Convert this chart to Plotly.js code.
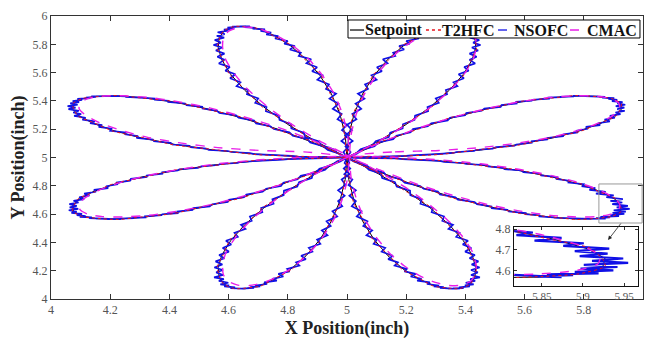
<!DOCTYPE html>
<html>
<head>
<meta charset="utf-8">
<script src="https://cdn.plot.ly/plotly-3.0.1.min.js"></script>
<style>html,body{margin:0;padding:0;background:#fff;}#chart{width:645px;height:340px;}</style>
</head>
<body>
<div id="chart"></div>
<script>
// ---------- Setpoint (rose path) ----------
var spAPos = [5,5.156,5.308,5.451,5.581,5.694,5.787,5.858,5.905,5.927,5.924,5.897,5.847,5.777,5.690,5.588,5.476,5.357,5.235,5.115,5];
var spANeg = [5,4.844,4.692,4.549,4.419,4.306,4.213,4.142,4.095,4.073,4.076,4.103,4.153,4.223,4.310,4.412,4.524,4.643,4.765,4.885,5];
var spBPos = [5,5.006,5.024,5.053,5.092,5.138,5.189,5.242,5.294,5.342,5.383,5.414,5.432,5.435,5.423,5.393,5.346,5.281,5.201,5.106,5];
var spBNeg = [5,4.994,4.976,4.947,4.908,4.862,4.811,4.758,4.706,4.658,4.617,4.586,4.568,4.565,4.577,4.607,4.654,4.719,4.799,4.894,5];

// ---------- T2HFC ----------
var t2APos = [5,5.152,5.311,5.447,5.584,5.690,5.790,5.855,5.908,5.924,5.927,5.894,5.850,5.773,5.693,5.585,5.479,5.353,5.238,5.112,5];
var t2ANeg = [5,4.848,4.689,4.553,4.416,4.310,4.210,4.145,4.092,4.076,4.073,4.106,4.150,4.227,4.307,4.415,4.521,4.647,4.762,4.888,5];
var t2BPos = [5,5.008,5.021,5.056,5.089,5.141,5.186,5.245,5.291,5.345,5.380,5.417,5.429,5.438,5.420,5.396,5.343,5.284,5.198,5.109,5];
var t2BNeg = [5,4.992,4.979,4.944,4.911,4.859,4.814,4.755,4.709,4.655,4.620,4.583,4.571,4.562,4.580,4.604,4.657,4.716,4.802,4.891,5];

// ---------- CMAC ----------
var cmAPos = [5.008,5.162,5.311,5.452,5.580,5.692,5.783,5.853,5.899,5.921,5.918,5.892,5.842,5.773,5.688,5.587,5.477,5.360,5.239,5.121,5.008];
var cmANeg = [5.008,4.854,4.705,4.564,4.436,4.324,4.233,4.163,4.117,4.095,4.098,4.124,4.174,4.243,4.328,4.429,4.539,4.656,4.777,4.895,5.008];
var cmBPos = [5.008,5.014,5.032,5.060,5.099,5.144,5.194,5.246,5.298,5.345,5.385,5.416,5.434,5.436,5.425,5.395,5.349,5.285,5.206,5.112,5.008];
var cmBUp  = [5.008,5.040,5.050,5.070,5.103,5.144,5.194,5.246,5.298,5.345,5.385,5.416,5.434,5.436,5.425,5.395,5.349,5.285,5.206,5.112,5.008];
var cmBNeg = [5.008,5.002,4.984,4.956,4.917,4.872,4.822,4.770,4.718,4.671,4.631,4.600,4.582,4.580,4.591,4.621,4.667,4.731,4.810,4.904,5.008];

// ---------- NSOFC (noisy tracking, one array per petal) ----------
var nsX_A = [5,5.049,5.070,5.131,5.144,5.200,5.217,5.282,5.302,5.360,5.370,5.429,5.435,5.492,5.504,5.566,5.572,5.624,5.624,5.676,5.677,5.730,5.733,5.780,5.774,5.814,5.807,5.855,5.848,5.888,5.870,5.905,5.888,5.924,5.907,5.938,5.913,5.937,5.908,5.940,5.913,5.931,5.895,5.913,5.883,5.903,5.862,5.872,5.830,5.844,5.804,5.811,5.764,5.767,5.719,5.724,5.681,5.682,5.627,5.624,5.572,5.573,5.522,5.519,5.464,5.455,5.403,5.399,5.348,5.340,5.285,5.273,5.223,5.215,5.167,5.156,5.106,5.093,5.051,5.033,5];
var nsX_E = [5,4.951,4.930,4.869,4.856,4.800,4.783,4.718,4.698,4.640,4.630,4.571,4.565,4.508,4.496,4.434,4.428,4.376,4.376,4.324,4.323,4.270,4.267,4.220,4.226,4.186,4.193,4.145,4.152,4.112,4.130,4.095,4.112,4.076,4.093,4.062,4.087,4.063,4.092,4.060,4.087,4.069,4.105,4.087,4.117,4.097,4.138,4.128,4.170,4.156,4.196,4.189,4.236,4.233,4.281,4.276,4.319,4.318,4.373,4.376,4.428,4.427,4.478,4.481,4.536,4.545,4.597,4.601,4.652,4.660,4.715,4.727,4.777,4.785,4.833,4.844,4.894,4.907,4.949,4.967,5];
var nsX_H = [5,5.029,5.086,5.103,5.168,5.188,5.247,5.258,5.314,5.328,5.390,5.403,5.467,5.476,5.528,5.532,5.590,5.596,5.652,5.656,5.711,5.706,5.749,5.748,5.800,5.796,5.839,5.819,5.874,5.841,5.901,5.876,5.932,5.890,5.930,5.896,5.949,5.911,5.955,5.901,5.942,5.897,5.937,5.890,5.919,5.856,5.888,5.841,5.874,5.808,5.825,5.769,5.790,5.745,5.749,5.700,5.699,5.648,5.651,5.604,5.604,5.547,5.542,5.489,5.488,5.439,5.431,5.375,5.366,5.314,5.307,5.259,5.247,5.195,5.183,5.134,5.124,5.081,5.065,5.025,5];
var nsX_D = [5,4.971,4.914,4.897,4.832,4.812,4.753,4.742,4.686,4.672,4.610,4.597,4.533,4.524,4.472,4.468,4.410,4.404,4.348,4.344,4.289,4.294,4.251,4.252,4.200,4.204,4.161,4.173,4.132,4.148,4.106,4.117,4.078,4.102,4.075,4.094,4.059,4.083,4.056,4.090,4.065,4.095,4.073,4.105,4.089,4.133,4.118,4.152,4.136,4.184,4.180,4.221,4.210,4.255,4.251,4.300,4.301,4.352,4.349,4.396,4.396,4.453,4.458,4.511,4.512,4.561,4.569,4.625,4.634,4.686,4.693,4.741,4.753,4.805,4.817,4.866,4.876,4.919,4.935,4.975,5];
var nsX_B = [5,5.012,4.995,5.019,4.994,5.017,5.000,5.032,5.018,5.048,5.029,5.059,5.037,5.071,5.061,5.100,5.083,5.118,5.101,5.137,5.121,5.163,5.156,5.193,5.176,5.212,5.200,5.243,5.232,5.273,5.256,5.292,5.277,5.319,5.309,5.346,5.328,5.363,5.345,5.388,5.372,5.404,5.383,5.416,5.400,5.437,5.413,5.440,5.415,5.447,5.426,5.451,5.422,5.443,5.414,5.438,5.414,5.433,5.396,5.411,5.377,5.395,5.360,5.373,5.334,5.338,5.300,5.310,5.272,5.274,5.230,5.228,5.189,5.188,5.146,5.141,5.097,5.086,5.046,5.031,5];
var nsX_C = [5,4.988,5.005,4.981,5.006,4.983,5.000,4.968,4.982,4.952,4.971,4.941,4.963,4.929,4.939,4.900,4.917,4.882,4.899,4.863,4.879,4.837,4.844,4.807,4.824,4.788,4.800,4.757,4.768,4.727,4.744,4.708,4.723,4.681,4.691,4.654,4.672,4.637,4.655,4.612,4.628,4.596,4.617,4.584,4.600,4.563,4.587,4.560,4.585,4.553,4.574,4.549,4.578,4.557,4.586,4.562,4.586,4.567,4.604,4.589,4.623,4.605,4.640,4.627,4.666,4.662,4.700,4.690,4.728,4.726,4.770,4.772,4.811,4.812,4.854,4.859,4.903,4.914,4.954,4.969,5];
var nsX_G = [5,4.992,5.011,4.991,5.018,5.005,5.030,5.008,5.030,5.016,5.049,5.033,5.069,5.055,5.085,5.066,5.101,5.090,5.129,5.117,5.155,5.139,5.172,5.161,5.202,5.194,5.232,5.215,5.252,5.237,5.280,5.270,5.311,5.293,5.327,5.314,5.356,5.343,5.381,5.358,5.394,5.378,5.415,5.398,5.428,5.401,5.433,5.416,5.449,5.419,5.442,5.419,5.448,5.421,5.444,5.414,5.432,5.399,5.420,5.391,5.409,5.369,5.380,5.343,5.358,5.322,5.328,5.286,5.290,5.248,5.252,5.214,5.213,5.168,5.162,5.119,5.115,5.074,5.060,5.023,5];
var nsX_F = [5,5.008,4.989,5.009,4.982,4.995,4.970,4.992,4.970,4.984,4.951,4.967,4.931,4.945,4.915,4.934,4.899,4.910,4.871,4.883,4.845,4.861,4.828,4.839,4.798,4.806,4.768,4.785,4.748,4.763,4.720,4.730,4.689,4.707,4.673,4.686,4.644,4.657,4.619,4.642,4.606,4.622,4.585,4.602,4.572,4.599,4.567,4.584,4.551,4.581,4.558,4.581,4.552,4.579,4.556,4.586,4.568,4.601,4.580,4.609,4.591,4.631,4.620,4.657,4.642,4.678,4.672,4.714,4.710,4.752,4.748,4.786,4.787,4.832,4.838,4.881,4.885,4.926,4.940,4.977,5];
var nsY_bPos = [5,5.002,5.003,5.005,5.006,5.011,5.015,5.020,5.024,5.032,5.039,5.046,5.053,5.063,5.073,5.083,5.092,5.104,5.115,5.127,5.138,5.151,5.164,5.177,5.189,5.203,5.216,5.229,5.242,5.255,5.268,5.281,5.294,5.306,5.318,5.330,5.342,5.353,5.363,5.373,5.383,5.391,5.399,5.407,5.414,5.419,5.423,5.428,5.432,5.433,5.434,5.435,5.435,5.432,5.429,5.426,5.423,5.416,5.408,5.401,5.393,5.382,5.370,5.358,5.346,5.330,5.314,5.298,5.281,5.261,5.241,5.221,5.201,5.178,5.154,5.130,5.106,5.080,5.053,5.027,5];
var nsY_bNeg = [5,4.998,4.997,4.995,4.994,4.989,4.985,4.980,4.976,4.968,4.961,4.954,4.947,4.937,4.927,4.917,4.908,4.896,4.885,4.873,4.862,4.849,4.836,4.823,4.811,4.797,4.784,4.771,4.758,4.745,4.732,4.719,4.706,4.694,4.682,4.670,4.658,4.647,4.637,4.627,4.617,4.609,4.601,4.593,4.586,4.581,4.577,4.572,4.568,4.567,4.566,4.565,4.565,4.568,4.571,4.574,4.577,4.584,4.592,4.599,4.607,4.618,4.630,4.642,4.654,4.670,4.686,4.702,4.719,4.739,4.759,4.779,4.799,4.822,4.846,4.870,4.894,4.920,4.947,4.973,5];
var nsY_aPos = [5,5.039,5.078,5.117,5.156,5.194,5.232,5.270,5.308,5.344,5.380,5.416,5.451,5.484,5.516,5.549,5.581,5.610,5.638,5.666,5.694,5.718,5.741,5.764,5.787,5.805,5.823,5.841,5.858,5.870,5.882,5.894,5.905,5.911,5.916,5.922,5.927,5.927,5.926,5.925,5.924,5.918,5.911,5.904,5.897,5.885,5.872,5.860,5.847,5.830,5.812,5.795,5.777,5.756,5.734,5.712,5.690,5.665,5.639,5.614,5.588,5.560,5.532,5.504,5.476,5.447,5.417,5.387,5.357,5.327,5.296,5.266,5.235,5.205,5.175,5.145,5.115,5.087,5.058,5.029,5];
var nsY_aNeg = [5,4.961,4.922,4.883,4.844,4.806,4.768,4.730,4.692,4.656,4.620,4.584,4.549,4.516,4.484,4.451,4.419,4.390,4.362,4.334,4.306,4.282,4.259,4.236,4.213,4.195,4.177,4.159,4.142,4.130,4.118,4.106,4.095,4.089,4.084,4.078,4.073,4.073,4.074,4.075,4.076,4.082,4.089,4.096,4.103,4.115,4.128,4.140,4.153,4.170,4.188,4.205,4.223,4.244,4.266,4.288,4.310,4.335,4.361,4.386,4.412,4.440,4.468,4.496,4.524,4.553,4.583,4.613,4.643,4.673,4.704,4.734,4.765,4.795,4.825,4.855,4.885,4.913,4.942,4.971,5];

var seriesNames = ['Setpoint','T2HFC','NSOFC','CMAC'];
var xTitle = 'X Position(inch)';
var yTitle = 'Y Position(inch)';
var insetXTicks = [5.85,5.9,5.95];
var insetYTicks = [4.6,4.7,4.8];

// assemble petals from the arrays above
var setX = [].concat(spAPos, spBPos, spBNeg, spANeg, spANeg, spBNeg, spBPos, spAPos);
var setY = [].concat(spBPos, spAPos, spAPos, spBPos, spBNeg, spANeg, spANeg, spBNeg);
var t2X = [].concat(t2APos, t2BPos, t2BNeg, t2ANeg, t2ANeg, t2BNeg, t2BPos, t2APos);
var t2Y = [].concat(t2BPos, t2APos, t2APos, t2BPos, t2BNeg, t2ANeg, t2ANeg, t2BNeg);
var cmX = [].concat(cmAPos, cmBPos, cmBNeg, cmANeg, cmANeg, cmBNeg, cmBPos, cmAPos);
var cmY = [].concat(cmBUp, cmAPos, cmAPos, cmBUp, cmBNeg, cmANeg, cmANeg, cmBNeg);
var nsX = [].concat(nsX_A, nsX_B, nsX_C, nsX_D, nsX_E, nsX_F, nsX_G, nsX_H);
var nsY = [].concat(nsY_bPos, nsY_aPos, nsY_aPos, nsY_bPos, nsY_bNeg, nsY_aNeg, nsY_aNeg, nsY_bNeg);

var FONT = "'Times New Roman', 'Liberation Serif', serif";
var colors = {sp:'#000000', t2:'#e8141e', ns:'#1010e6', cm:'#e81ee8'};

function mk(main) {
  var sfx = main ? {showlegend:false} : {xaxis:'x2', yaxis:'y2', showlegend:false};
  return [
    Object.assign({x:setX, y:setY, name:seriesNames[0], mode:'lines',
      line:{color:colors.sp, width:1}}, sfx),
    Object.assign({x:nsX, y:nsY, name:seriesNames[2], mode:'lines',
      line:{color:colors.ns, width: main ? 1.7 : 2.2}}, sfx),
    Object.assign({x:t2X, y:t2Y, name:seriesNames[1], mode:'lines',
      line:{color:colors.t2, width:1, dash:'dot', shape:'spline', smoothing:0.6}}, sfx),
    Object.assign({x:cmX, y:cmY, name:seriesNames[3], mode:'lines',
      line:{color:colors.cm, width:1.4, dash:'dash', shape:'spline', smoothing:0.6}}, sfx)
  ];
}
var data = mk(true).concat(mk(false));

var axisCommon = {
  showline:true, linecolor:'#333', linewidth:1, mirror:'ticks', ticks:'inside', ticklen:5,
  tickcolor:'#333', showgrid:false, zeroline:false,
  tickfont:{family:FONT, size:12, color:'#555'}
};

// legend drawn as a boxed key (positions in paper units)
var legY = 0.9505;
var legItems = [
  {x0:0.505, x1:0.5287, tx:0.529, color:colors.sp, dash:'solid', w:1.2},
  {x0:0.6334, x1:0.6605, tx:0.6595, color:colors.t2, dash:'dot', w:1.5},
  {x0:0.7551, x1:0.7804, tx:0.781, color:colors.ns, dash:'dash', w:1.3},
  {x0:0.8767, x1:0.9054, tx:0.904, color:colors.cm, dash:'dash', w:1.5}
];
var shapes = [
  {type:'rect', xref:'paper', yref:'paper', x0:0.782, x1:0.9916, y0:0.046, y1:0.254,
    fillcolor:'#fff', line:{width:0}, layer:'below'},
  {type:'rect', xref:'x', yref:'y', x0:5.851, x1:5.997, y0:4.537, y1:4.813,
    line:{color:'#999', width:1}},
  {type:'rect', xref:'paper', yref:'paper', x0:0.5017, x1:0.9949, y0:0.9223, y1:0.9859,
    fillcolor:'#fff', line:{color:'#000', width:1}, layer:'above'}
];
var annotations = [
  {x:5.882, y:4.417, xref:'x', yref:'y', ax:5.929, ay:4.544, axref:'x', ayref:'y',
    text:'', showarrow:true, arrowhead:2, arrowsize:1, arrowwidth:0.8, arrowcolor:'#222'}
];
legItems.forEach(function(it, i){
  shapes.push({type:'line', xref:'paper', yref:'paper', x0:it.x0, x1:it.x1, y0:legY, y1:legY,
    line:{color:it.color, width:it.w, dash:it.dash}, layer:'above'});
  annotations.push({x:it.tx, y:legY, xref:'paper', yref:'paper', xanchor:'left', yanchor:'middle',
    text:seriesNames[i], showarrow:false, borderpad:0,
    font:{family:FONT, size:16, color:'#111', weight:'bold'}});
});

var layout = {
  width:645, height:340,
  margin:{l:51, r:2, t:16, b:41},
  paper_bgcolor:'#fff', plot_bgcolor:'#fff',
  showlegend:false,
  xaxis:Object.assign({}, axisCommon, {range:[4,6], dtick:0.2, domain:[0,1], anchor:'y',
    title:{text:xTitle, standoff:4, font:{family:FONT, size:18, color:'#222', weight:'bold'}}}),
  yaxis:Object.assign({}, axisCommon, {range:[4,6], dtick:0.2, domain:[0,1], anchor:'x',
    title:{text:yTitle, standoff:3, font:{family:FONT, size:18, color:'#222', weight:'bold'}}}),
  xaxis2:Object.assign({}, axisCommon, {range:[5.816,5.967], tickvals:insetXTicks, domain:[0.782,0.9916],
    anchor:'y2', ticklen:3, linecolor:'#111', tickfont:{family:FONT, size:11, color:'#555'}}),
  yaxis2:Object.assign({}, axisCommon, {range:[4.525,4.81], tickvals:insetYTicks, domain:[0.046,0.254],
    anchor:'x2', ticklen:3, linecolor:'#111', tickfont:{family:FONT, size:12, color:'#555'}}),
  shapes:shapes,
  annotations:annotations
};

Plotly.newPlot('chart', data, layout, {staticPlot:true, displayModeBar:false});
</script>
</body>
</html>
